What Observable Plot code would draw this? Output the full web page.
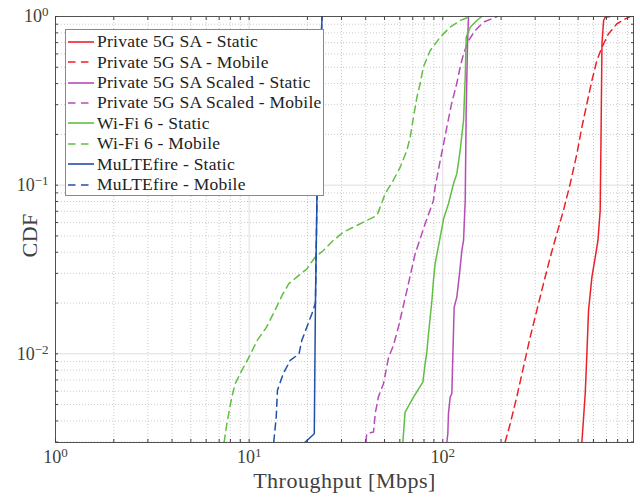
<!DOCTYPE html>
<html><head><meta charset="utf-8">
<script src="https://cdn.jsdelivr.net/npm/d3@7"></script>
<script src="https://cdn.jsdelivr.net/npm/@observablehq/plot@0.6"></script>
<style>
body{margin:0;background:#fff;}
#wrap{position:relative;width:640px;height:504px;font-family:"Liberation Serif",serif;}
#legend{position:absolute;left:65px;top:29px;width:259px;height:167px;border:1px solid #8a8a8a;background:#fff;box-sizing:border-box;}
.row{position:absolute;left:0;height:20px;display:flex;align-items:center;font-size:17.5px;letter-spacing:0.25px;color:#222;white-space:nowrap;}
.row svg{margin-left:1px;margin-right:3px;}
</style></head><body><div id="wrap"></div>
<script>
// Throughput [Mbps] vs CDF
const p5gStatic = [[523,0.003],[544,0.0058],[555,0.01],[566,0.0181],[589,0.0285],[613,0.0374],[633,0.047],[650,0.0708],[656,0.176],[664,0.689],[677,0.947],[690,0.99],[733,1]];
const p5gMobile = [[210,0.003],[223,0.00385],[241,0.00554],[261,0.00834],[283,0.0126],[306,0.0181],[331,0.026],[359,0.0374],[388,0.0515],[420,0.0708],[455,0.102],[493,0.154],[523,0.221],[555,0.304],[589,0.417],[625,0.549],[664,0.658],[718,0.79],[793,0.905],[876,0.969],[929,1]];
const scaledStatic = [[105,0.003],[106.2,0.00336],[107,0.00442],[109.2,0.00554],[111.4,0.0058],[112.8,0.01],[114.5,0.0189],[118.2,0.0217],[122,0.0298],[125.5,0.041],[128,0.047],[130.6,0.0811],[132.1,0.277],[134.2,0.689],[135.8,1]];
const scaledMobile = [[40.1,0.003],[40.5,0.00336],[43.9,0.00344],[44.8,0.00442],[46.5,0.00554],[49.4,0.00665],[52.5,0.00955],[55.6,0.0112],[59.0,0.0144],[65.3,0.0238],[72.0,0.0392],[81.1,0.059],[89.5,0.0811],[91.3,0.0973],[97,0.14],[101,0.176],[105,0.221],[111,0.304],[118,0.399],[123,0.501],[128,0.601],[136,0.721],[147,0.826],[162,0.925],[191,1]];
const wifiStatic = [[62.2,0.003],[63.9,0.00451],[70.6,0.00554],[78.9,0.0068],[81.1,0.00874],[82.7,0.0102],[84.4,0.0132],[87.9,0.0207],[89.5,0.0272],[91.3,0.0342],[97,0.0492],[101,0.0632],[107,0.0776],[113.6,0.102],[118.2,0.117],[123,0.161],[128,0.242],[130.6,0.437],[132.1,0.754],[138.6,0.864],[150,0.947],[159,1]];
const wifiMobile = [[7.43,0.003],[7.67,0.00385],[8.14,0.00554],[8.47,0.00665],[9.17,0.00797],[10.1,0.0098],[11.0,0.012],[12.3,0.0144],[13.6,0.0181],[14.8,0.0222],[16.0,0.026],[17.6,0.0285],[19.9,0.0319],[20.7,0.0342],[21.9,0.0374],[24.2,0.041],[27.2,0.047],[30.7,0.0527],[36.0,0.0577],[40.5,0.0618],[45.7,0.0661],[47.5,0.0741],[50.4,0.0889],[55.6,0.107],[60.3,0.128],[65.3,0.161],[67.9,0.193],[70.6,0.253],[73.5,0.332],[76.4,0.399],[79.4,0.501],[86.1,0.629],[97,0.754],[109,0.864],[123,0.947],[139,1]];
const multeStatic = [[19.5,0.003],[21.7,0.00336],[22.0,0.02],[22.4,0.085],[23.1,0.4],[23.8,1]];
const multeMobile = [[13.4,0.003],[13.8,0.00421],[14.0,0.00607],[15.0,0.00762],[16.3,0.00914],[18.1,0.01],[18.7,0.012],[21.1,0.0173],[22.0,0.02],[22.4,0.085],[23.1,0.4],[23.8,1]];

const seriesNames = ["Private 5G SA - Static","Private 5G SA - Mobile","Private 5G SA Scaled - Static","Private 5G SA Scaled - Mobile","Wi-Fi 6 - Static","Wi-Fi 6 - Mobile","MuLTEfire - Static","MuLTEfire - Mobile"];
const seriesData = [p5gStatic,p5gMobile,scaledStatic,scaledMobile,wifiStatic,wifiMobile,multeStatic,multeMobile];
const seriesColors = ["#ec2128","#ec2128","#b64cb6","#b64cb6","#62bd45","#62bd45","#2050a8","#2050a8"];
const seriesDashed = [false,true,false,true,false,true,false,true];

const xMajor = [1,10,100];
const xMinor = [2,3,4,5,6,7,8,9,20,30,40,50,60,70,80,90,200,300,400,500,600,700,800,900];
const yMajor = [0.01,0.1,1];
const yMinor = [0.003,0.004,0.005,0.006,0.007,0.008,0.009,0.02,0.03,0.04,0.05,0.06,0.07,0.08,0.09,0.2,0.3,0.4,0.5,0.6,0.7,0.8,0.9];
const xDomain = [1,966];
const yDomain = [0.00298,1];

const DASH = "7,5";
const ink = "#404040";
const expFmt = d => "10^" + Math.round(Math.log10(d));

const lines = seriesData.map((data,i) => Plot.line(data, {
  x: d => d[0], y: d => d[1], stroke: seriesColors[i], strokeWidth: 1.5,
  strokeDasharray: seriesDashed[i] ? DASH : null, clip: true
}));

const svg = Plot.plot({
  width: 640, height: 504,
  marginLeft: 55, marginRight: 7, marginTop: 16, marginBottom: 62,
  style: {fontFamily: '"Liberation Serif", serif', background: "#fff"},
  x: {type: "log", domain: xDomain},
  y: {type: "log", domain: yDomain},
  marks: [
    Plot.ruleX(xMinor, {stroke: "#bdbdbd", strokeDasharray: "1,2", strokeWidth: 0.8}),
    Plot.ruleY(yMinor, {stroke: "#bdbdbd", strokeDasharray: "1,2", strokeWidth: 0.8}),
    Plot.ruleX(xMajor.slice(1), {stroke: "#dedede", strokeWidth: 1}),
    Plot.ruleY(yMajor.slice(0,2), {stroke: "#dedede", strokeWidth: 1}),
    ...lines,
    Plot.frame({stroke: ink, strokeWidth: 0.9}),
    Plot.axisX(xMinor.concat(xMajor), {anchor: "bottom", tickSize: -3, text: null, stroke: ink}),
    Plot.axisX(xMinor.concat(xMajor), {anchor: "top", tickSize: -3, text: null, stroke: ink}),
    Plot.axisY(yMinor.concat(yMajor), {anchor: "left", tickSize: -3, text: null, stroke: ink}),
    Plot.axisY(yMinor.concat(yMajor), {anchor: "right", tickSize: -3, text: null, stroke: ink}),
    Plot.axisX(xMajor, {anchor: "bottom", tickSize: 0, tickPadding: 8, tickFormat: expFmt, fontSize: 18, fill: ink, label: null}),
    Plot.axisY(yMajor, {anchor: "left", tickSize: 0, tickPadding: 7, tickFormat: expFmt, fontSize: 18, fill: ink, label: null}),
    Plot.text(["Throughput [Mbps]"], {frameAnchor: "bottom", dy: 45, fontSize: 22, fill: ink}),
    Plot.text(["CDF"], {frameAnchor: "left", dx: -26, dy: 28, rotate: -90, fontSize: 22, fill: ink})
  ]
});

// superscript exponents in tick labels
svg.querySelectorAll('g[aria-label="x-axis tick label"] text, g[aria-label="y-axis tick label"] text').forEach(t => {
  const s = t.textContent;
  if (!s.includes("^")) return;
  const [base, ex] = s.split("^");
  t.textContent = "";
  const NS = "http://www.w3.org/2000/svg";
  const a = document.createElementNS(NS, "tspan"); a.textContent = base;
  const b = document.createElementNS(NS, "tspan"); b.textContent = ex.replace("-", "\u2212");
  b.setAttribute("dy", "-0.45em"); b.setAttribute("font-size", "13");
  t.appendChild(a); t.appendChild(b);
});
svg.querySelectorAll('g[aria-label="text"] text').forEach(t => { t.style.letterSpacing = "0.5px"; });

const wrap = document.getElementById("wrap");
wrap.appendChild(svg);

const legend = document.createElement("div");
legend.id = "legend";
seriesNames.forEach((name,i) => {
  const row = document.createElement("div");
  row.className = "row";
  row.style.top = (1.7 + i*20.4) + "px";
  row.innerHTML = `<svg width="27" height="6"><line x1="1" y1="3" x2="27" y2="3" stroke="${seriesColors[i]}" stroke-width="1.6" ${seriesDashed[i] ? 'stroke-dasharray="7.5,5.5"' : ''}/></svg><span></span>`;
  row.querySelector("span").textContent = name;
  legend.appendChild(row);
});
wrap.appendChild(legend);
</script>
</body></html>
